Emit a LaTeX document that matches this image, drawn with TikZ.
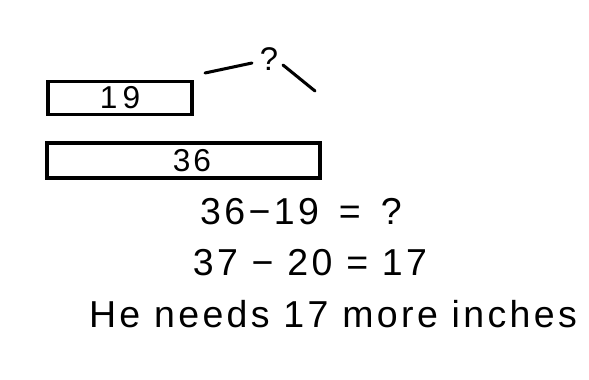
\documentclass[tikz,border=0pt]{standalone}
\usepackage{fontspec}
\setmainfont{Liberation Sans}
\newfontfamily\handfont[LetterSpace=9]{Liberation Sans}
\begin{document}
\begin{tikzpicture}[x=0.03cm, y=-0.03cm,
  bar/.style={draw, line width=2.6pt, inner sep=0pt, font=\handfont\fontsize{27}{30}\selectfont},
  hand/.style={font=\handfont\fontsize{32}{38}\selectfont, inner sep=0pt},
  pen/.style={line width=2.6pt, line cap=round}]
\useasboundingbox (0,0) rectangle (589,379);
% the two bars
\node[bar, minimum width=4.32cm, minimum height=1cm] (small) at (120,98) {1\,9};
\node[bar, minimum width=8.19cm, minimum height=1.05cm, text depth=0pt] (long) at (183.5,160.5) {\hspace{0.5cm}36};
% the difference
\node[hand, font=\handfont\fontsize{28}{30}\selectfont] (ask) at (269,59) {?};
\coordinate (l1) at (205,73);
\coordinate (l2) at (252,63);
\coordinate (r1) at (283,65);
\coordinate (r2) at (315,91);
\draw[pen] (l1) -- (l2);
\draw[pen] (r1) -- (r2);
% working
\node[hand] (eq1) at (301,212) {36−19 \,= \,?};
\node[hand] (eq2) at (310,263) {37 − 20 = 17};
\node[hand] (ans) at (333,314) {He needs 17 more inches};
\end{tikzpicture}
\end{document}
